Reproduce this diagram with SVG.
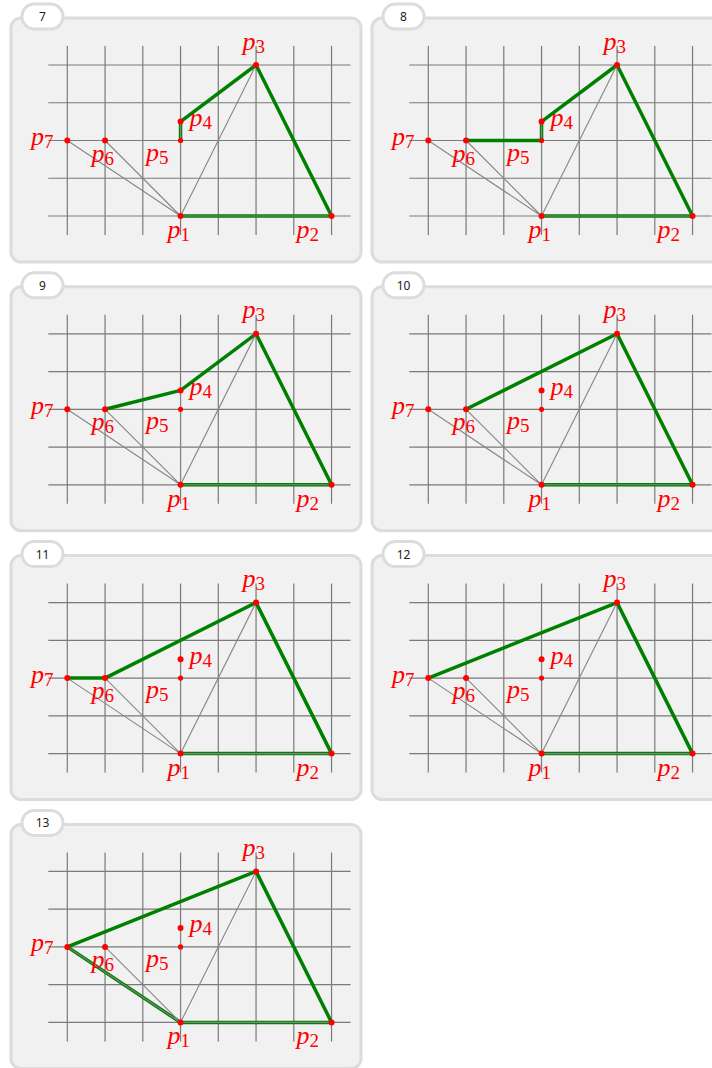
<svg xmlns="http://www.w3.org/2000/svg" xmlns:xlink="http://www.w3.org/1999/xlink" width="712" height="1068" viewBox="0 0 712 1068">
<style>
.panel{fill:#f1f1f1;stroke:#dcdcdc;stroke-width:3}
.tab{fill:#ffffff;stroke:#dcdcdc;stroke-width:3}
.num{font-family:"Noto Sans","Open Sans",sans-serif;font-size:12px;fill:#222;text-anchor:middle}
.grid{stroke:#7a7a7a;stroke-width:1.2;fill:none}
.fan{stroke:#858585;stroke-width:1.1;fill:none}
.hull{stroke:#008000;stroke-width:3.5;fill:none;stroke-linejoin:round;stroke-linecap:round}
.dot{fill:#ff0000}
.lbl{font-family:"Liberation Serif","Times New Roman",serif;font-size:26px;fill:#ff0000;font-style:italic}
.sub{font-style:normal;font-size:19px}
</style>
<defs>
<g id="base">
<rect class="panel" x="11" y="18" width="350" height="244" rx="10"/>
<path class="grid" d="M67.3 46V235M105.05 46V235M142.8 46V235M180.55 46V235M218.3 46V235M256.05 46V235M293.8 46V235M331.55 46V235M48.3 65H350.5M48.3 102.75H350.5M48.3 140.5H350.5M48.3 178.25H350.5M48.3 216H350.5"/>
</g>
<g id="fan">
<path class="fan" d="M180.55 216L331.55 216M180.55 216L256.05 65M180.55 216L180.55 121.6M180.55 216L105.05 140.5M180.55 216L67.3 140.5"/>
</g>
<g id="pts">
<circle class="dot" cx="180.55" cy="216" r="3"/>
<circle class="dot" cx="331.55" cy="216" r="3"/>
<circle class="dot" cx="256.05" cy="65" r="3"/>
<circle class="dot" cx="180.55" cy="121.6" r="3"/>
<circle class="dot" cx="180.55" cy="140.5" r="2.6"/>
<circle class="dot" cx="105.05" cy="140.5" r="3"/>
<circle class="dot" cx="67.3" cy="140.5" r="3"/>
<text class="lbl" x="167.5" y="238">p<tspan class="sub" dy="3">1</tspan></text>
<text class="lbl" x="296.5" y="238">p<tspan class="sub" dy="3">2</tspan></text>
<text class="lbl" x="242.5" y="49.5">p<tspan class="sub" dy="3">3</tspan></text>
<text class="lbl" x="189.5" y="126">p<tspan class="sub" dy="3">4</tspan></text>
<text class="lbl" x="146" y="160.5">p<tspan class="sub" dy="3">5</tspan></text>
<text class="lbl" x="91.5" y="161.5">p<tspan class="sub" dy="3">6</tspan></text>
<text class="lbl" x="31" y="145">p<tspan class="sub" dy="3">7</tspan></text>
</g>
<rect id="tabshape" class="tab" x="22" y="4" width="41" height="25" rx="12.5"/>
</defs>

<g id="panel-7">
<use xlink:href="#base"/>
<use xlink:href="#tabshape"/>
<text class="num" x="42.5" y="21">7</text>
<polyline class="hull" points="180.55,216 331.55,216 256.05,65 180.55,121.6 180.55,140.5"/>
<use xlink:href="#fan"/>
<use xlink:href="#pts"/>
</g>

<g id="panel-8" transform="translate(361,0)">
<use xlink:href="#base"/>
<use xlink:href="#tabshape"/>
<text class="num" x="42.5" y="21">8</text>
<polyline class="hull" points="180.55,216 331.55,216 256.05,65 180.55,121.6 180.55,140.5 105.05,140.5"/>
<use xlink:href="#fan"/>
<use xlink:href="#pts"/>
</g>

<g id="panel-9" transform="translate(0,268.8)">
<use xlink:href="#base"/>
<use xlink:href="#tabshape"/>
<text class="num" x="42.5" y="21">9</text>
<polyline class="hull" points="180.55,216 331.55,216 256.05,65 180.55,121.6 105.05,140.5"/>
<use xlink:href="#fan"/>
<use xlink:href="#pts"/>
</g>

<g id="panel-10" transform="translate(361,268.8)">
<use xlink:href="#base"/>
<use xlink:href="#tabshape"/>
<text class="num" x="42.5" y="21">10</text>
<polyline class="hull" points="180.55,216 331.55,216 256.05,65 105.05,140.5"/>
<use xlink:href="#fan"/>
<use xlink:href="#pts"/>
</g>

<g id="panel-11" transform="translate(0,537.6)">
<use xlink:href="#base"/>
<use xlink:href="#tabshape"/>
<text class="num" x="42.5" y="21">11</text>
<polyline class="hull" points="180.55,216 331.55,216 256.05,65 105.05,140.5 67.3,140.5"/>
<use xlink:href="#fan"/>
<use xlink:href="#pts"/>
</g>

<g id="panel-12" transform="translate(361,537.6)">
<use xlink:href="#base"/>
<use xlink:href="#tabshape"/>
<text class="num" x="42.5" y="21">12</text>
<polyline class="hull" points="180.55,216 331.55,216 256.05,65 67.3,140.5"/>
<use xlink:href="#fan"/>
<use xlink:href="#pts"/>
</g>

<g id="panel-13" transform="translate(0,806.4)">
<use xlink:href="#base"/>
<use xlink:href="#tabshape"/>
<text class="num" x="42.5" y="21">13</text>
<polyline class="hull" points="180.55,216 331.55,216 256.05,65 67.3,140.5 180.55,216"/>
<use xlink:href="#fan"/>
<use xlink:href="#pts"/>
</g>
</svg>
